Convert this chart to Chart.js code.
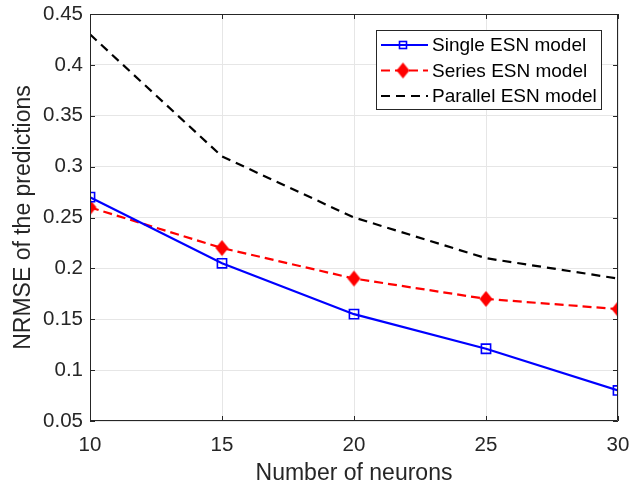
<!DOCTYPE html>
<html><head><meta charset="utf-8">
<script src="https://cdn.jsdelivr.net/npm/chart.js@4"></script>
<style>html,body{margin:0;padding:0;background:#fff}#c{display:block}</style>
</head><body>
<div style="width:630px;height:487px"><canvas id="c" width="630" height="487"></canvas></div>
<script>
const neurons = [10, 15, 20, 25, 30];
const singleESN = [0.27, 0.205, 0.155, 0.121, 0.08];
const seriesESN = [0.26, 0.22, 0.19, 0.17, 0.16];
const parallelESN = [0.43, 0.31, 0.25, 0.21, 0.19];
const xTicks = [10, 15, 20, 25, 30];
const yTicks = [0.05, 0.1, 0.15, 0.2, 0.25, 0.3, 0.35, 0.4, 0.45];

const FONT = 'Liberation Sans, Arial, sans-serif';

function diamond(w, h, color) {
  const c = document.createElement('canvas');
  c.width = w + 2; c.height = h + 2;
  const g = c.getContext('2d');
  g.fillStyle = color;
  g.beginPath();
  g.moveTo(c.width / 2, 1); g.lineTo(c.width - 1, c.height / 2);
  g.lineTo(c.width / 2, c.height - 1); g.lineTo(1, c.height / 2);
  g.closePath(); g.fill();
  return c;
}
const redDiamond = diamond(13, 16, '#ff0000');

const boxPlugin = {
  id: 'box',
  afterDatasetsDraw(chart) {
    const {ctx, chartArea: a, scales} = chart;
    ctx.save();
    ctx.strokeStyle = '#262626';
    ctx.lineWidth = 1;
    ctx.beginPath();
    ctx.rect(a.left + 0.5, a.top + 0.5, a.right - a.left - 1, a.bottom - a.top - 1);
    ctx.stroke();
    const tl = 5;
    ctx.beginPath();
    xTicks.forEach(v => {
      const x = Math.round(scales.x.getPixelForValue(v)) + 0.5;
      ctx.moveTo(x, a.bottom); ctx.lineTo(x, a.bottom - tl);
      ctx.moveTo(x, a.top); ctx.lineTo(x, a.top + tl);
    });
    yTicks.forEach(v => {
      const y = Math.round(scales.y.getPixelForValue(v)) + 0.5;
      ctx.moveTo(a.left, y); ctx.lineTo(a.left + tl, y);
      ctx.moveTo(a.right, y); ctx.lineTo(a.right - tl, y);
    });
    ctx.stroke();
    // legend
    const L = 376, T = 30, R = 601, B = 109;
    ctx.fillStyle = '#fff';
    ctx.fillRect(L, T, R - L, B - T);
    ctx.strokeStyle = '#262626';
    ctx.strokeRect(L + 0.5, T + 0.5, R - L, B - T);
    const rows = [45, 70.5, 96];
    const mx = 403;
    chart.data.datasets.forEach((ds, i) => {
      const y = rows[i];
      ctx.save();
      ctx.strokeStyle = ds.borderColor;
      ctx.lineWidth = ds.borderWidth;
      ctx.setLineDash(ds.borderDash || []);
      ctx.beginPath();
      ctx.moveTo(381, y); ctx.lineTo(428, y);
      ctx.stroke();
      ctx.restore();
      if (ds.pointRadius > 0) {
        ctx.save();
        if (ds.pointStyle === 'rect') {
          ctx.strokeStyle = ds.pointBorderColor;
          ctx.lineWidth = ds.pointBorderWidth;
          ctx.strokeRect(mx - 3.5, y - 3.5, 7, 7);
        } else {
          const img = ds.pointStyle;
          ctx.drawImage(img, mx - img.width / 2, y - img.height / 2);
        }
        ctx.restore();
      }
      ctx.fillStyle = '#000';
      ctx.font = '19px ' + FONT;
      ctx.textBaseline = 'middle';
      ctx.textAlign = 'left';
      ctx.fillText(ds.label, 432, y + 1);
    });
    ctx.restore();
  }
};

new Chart(document.getElementById('c'), {
  type: 'line',
  data: {
    datasets: [
      { label: 'Single ESN model', data: neurons.map((x, i) => ({x, y: singleESN[i]})),
        borderColor: '#0000ff', borderWidth: 2.2, pointStyle: 'rect', pointRadius: 6.5,
        pointBorderWidth: 1.6, pointBorderColor: '#0000ff', pointBackgroundColor: 'rgba(0,0,0,0)' },
      { label: 'Series ESN model', data: neurons.map((x, i) => ({x, y: seriesESN[i]})),
        borderColor: '#ff0000', borderWidth: 2.2, borderDash: [9, 5], pointStyle: redDiamond, pointRadius: 7,
        pointBorderWidth: 0, pointBorderColor: '#ff0000', pointBackgroundColor: '#ff0000' },
      { label: 'Parallel ESN model', data: neurons.map((x, i) => ({x, y: parallelESN[i]})),
        borderColor: '#000000', borderWidth: 2.2, borderDash: [9, 6], pointRadius: 0 }
    ]
  },
  options: {
    responsive: false, animation: false,
    layout: { padding: { left: 0, right: 12, top: 14, bottom: 0 } },
    plugins: { legend: { display: false }, tooltip: { enabled: false } },
    elements: { line: { tension: 0 } },
    scales: {
      x: {
        type: 'linear', min: 10, max: 30,
        afterBuildTicks: s => { s.ticks = xTicks.map(v => ({value: v})); },
        afterFit: s => { s.height = 66; s.paddingLeft = 0; s.paddingRight = 0; },
        grid: { color: '#e6e6e6', drawTicks: false },
        border: { display: false },
        ticks: { color: '#262626', font: { family: FONT, size: 20.5 }, padding: 12, maxRotation: 0 },
        title: { display: true, text: 'Number of neurons', color: '#262626', font: { family: FONT, size: 23 }, padding: { top: 0, bottom: 0 } }
      },
      y: {
        type: 'linear', min: 0.05, max: 0.45,
        afterBuildTicks: s => { s.ticks = yTicks.map(v => ({value: v})); },
        afterFit: s => { s.width = 90; s.paddingTop = 0; s.paddingBottom = 0; },
        grid: { color: '#e6e6e6', drawTicks: false },
        border: { display: false },
        ticks: { color: '#262626', font: { family: FONT, size: 20.5 }, padding: 7, callback: v => String(+v.toFixed(2)) },
        title: { display: true, text: 'NRMSE of the predictions', color: '#262626', font: { family: FONT, size: 23 }, padding: { top: 10, bottom: 0 } }
      }
    }
  },
  plugins: [boxPlugin]
});
</script>
</body></html>
